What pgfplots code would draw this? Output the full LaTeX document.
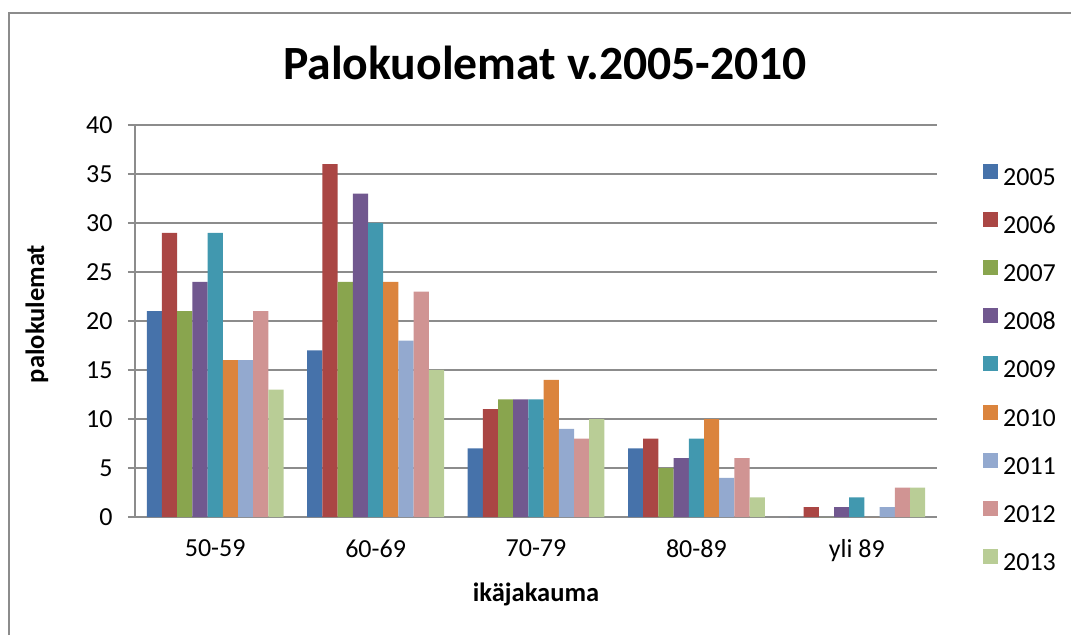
\documentclass[border=0pt]{standalone}
\usepackage{fontspec}
\setmainfont{Carlito}
\usepackage{pgfplots}
\pgfplotsset{compat=1.18}
\definecolor{c1}{HTML}{4672AA}
\definecolor{c2}{HTML}{AA4644}
\definecolor{c3}{HTML}{89A54E}
\definecolor{c4}{HTML}{71588F}
\definecolor{c5}{HTML}{4198AF}
\definecolor{c6}{HTML}{DB843D}
\definecolor{c7}{HTML}{93A9CF}
\definecolor{c8}{HTML}{D09493}
\definecolor{c9}{HTML}{B9CD96}
\definecolor{gridgray}{HTML}{8C8C8C}
\begin{document}
\begin{tikzpicture}[x=1pt,y=1pt]
\path[use as bounding box] (0,0) rectangle (1071,635);
\draw[gridgray, line width=2pt] (9,0) -- (9,622) -- (1071,622);
\node[font=\fontsize{47.7}{52}\selectfont\bfseries, anchor=base] at (545,555) {Palokuolemat v.2005-2010};
\node[font=\fontsize{26.5}{30}\selectfont\bfseries, rotate=90, anchor=center] at (37,321) {palokulemat};
\node[font=\fontsize{26.5}{30}\selectfont\bfseries, anchor=center] at (536,41) {ikäjakauma};
\begin{axis}[
  at={(135pt,118pt)}, anchor=south west,
  scale only axis, width=802pt, height=392pt,
  xmin=-0.5, xmax=4.5, ymin=0, ymax=40,
  ytick={0,5,...,40},
  xtick={0,1,2,3,4},
  xticklabels={50-59,60-69,70-79,80-89,yli 89},
  /pgf/number format/assume math mode=true,
  ticklabel style={font=\fontsize{26}{30}\selectfont},
  xticklabel style={yshift=-12pt},
  yticklabel style={xshift=-12pt},
  major x tick style={draw=none},
  major y tick style={gridgray, line width=1.5pt},
  tick align=outside, major tick length=7pt,
  axis x line*=bottom, axis y line*=left,
  axis line style={gridgray, line width=1.5pt, -},
  ymajorgrids, grid style={gridgray, line width=1.5pt},
  ybar=0pt, bar width=15.2pt,
  every axis plot/.append style={draw=none},
  legend cell align=left,
  legend style={draw=none, fill=none, at={(1.0536,0.906)}, anchor=north west,
    font=\fontsize{26}{30}\selectfont,
    nodes={text height=18pt, text depth=5pt, inner ysep=0pt, inner xsep=5pt},
    row sep=21.6pt},
  legend image code/.code={\fill[#1] (0pt,0pt) rectangle (15pt,15pt);},
]
\addplot[fill=c1] coordinates {(0,21) (1,17) (2,7) (3,7) (4,0)};
\addplot[fill=c2] coordinates {(0,29) (1,36) (2,11) (3,8) (4,1)};
\addplot[fill=c3] coordinates {(0,21) (1,24) (2,12) (3,5) (4,0)};
\addplot[fill=c4] coordinates {(0,24) (1,33) (2,12) (3,6) (4,1)};
\addplot[fill=c5] coordinates {(0,29) (1,30) (2,12) (3,8) (4,2)};
\addplot[fill=c6] coordinates {(0,16) (1,24) (2,14) (3,10) (4,0)};
\addplot[fill=c7] coordinates {(0,16) (1,18) (2,9) (3,4) (4,1)};
\addplot[fill=c8] coordinates {(0,21) (1,23) (2,8) (3,6) (4,3)};
\addplot[fill=c9] coordinates {(0,13) (1,15) (2,10) (3,2) (4,3)};
\legend{2005,2006,2007,2008,2009,2010,2011,2012,2013}
\end{axis}
\end{tikzpicture}
\end{document}
